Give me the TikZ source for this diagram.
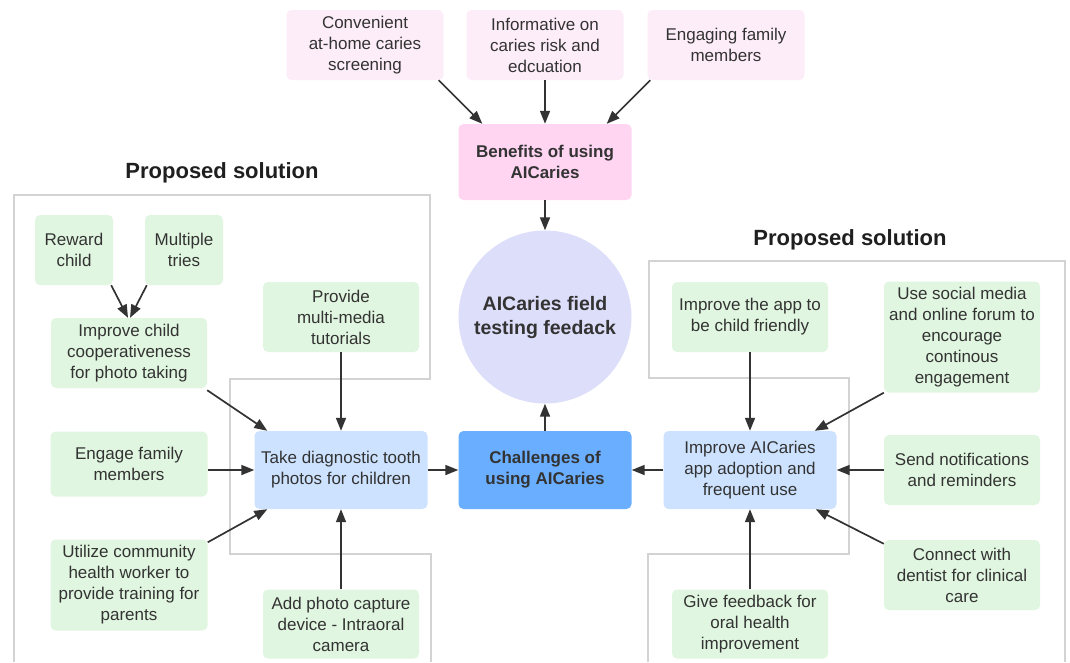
\documentclass[tikz,border=0pt]{standalone}
\usepackage{fontspec}
\setmainfont{Liberation Sans}
\usetikzlibrary{arrows.meta}
\definecolor{txt}{HTML}{333333}
\definecolor{pinkL}{HTML}{FDEDF8}
\definecolor{pinkB}{HTML}{FFD5F2}
\definecolor{lav}{HTML}{DDDEFA}
\definecolor{greenL}{HTML}{E0F6E0}
\definecolor{blueL}{HTML}{CCE2FF}
\definecolor{blueD}{HTML}{6AAEFF}
\definecolor{frameG}{HTML}{D3D3D3}
\begin{document}
\begin{tikzpicture}[x=1pt,y=-1pt,
  box/.style={rounded corners=5pt, align=center, text=txt, inner sep=0pt, font=\fontsize{17}{21}\selectfont},
  pinkbox/.style={box, fill=pinkL, minimum width=157pt, minimum height=70pt},
  greenbox/.style={box, fill=greenL},
  bluebox/.style={box, fill=blueL, minimum width=173pt, minimum height=78pt},
  boldbox/.style={box, font=\fontsize{17}{21}\selectfont\bfseries},
  heading/.style={text=black!88, font=\fontsize{22}{26}\selectfont\bfseries},
  arr/.style={draw=txt, line width=1.7pt, -{Triangle[length=13pt,width=10pt]}},
  frame/.style={draw=frameG, line width=1.3pt}
]
\useasboundingbox (0,0) rectangle (1070,662);
\fill[white] (0,0) rectangle (1070,662);

% panel frames
\draw[frame] (14,662) -- (14,195) -- (430,195) -- (430,379) -- (230,379) -- (230,554) -- (431,554) -- (431,662);
\draw[frame] (648,662) -- (648,554) -- (849,554) -- (849,378) -- (649,378) -- (649,261) -- (1065,261) -- (1065,662);

% headings
\node[heading] (h1) at (222,173) {Proposed solution};
\node[heading] (h2) at (850,240) {Proposed solution};

% top
\node[pinkbox] (conv) at (365,45) {Convenient\\at-home caries\\screening};
\node[pinkbox] (info) at (545,45) {Informative on\\caries risk and\\edcuation};
\node[pinkbox] (engf) at (726,45) {Engaging family\\members};
\node[boldbox, fill=pinkB, minimum width=173pt, minimum height=76pt] (ben) at (545,162) {Benefits of using\\AICaries};

% center
\node[circle, fill=lav, minimum size=173pt, inner sep=0pt, align=center, text=txt, font=\fontsize{19.5}{24}\selectfont\bfseries] (fb) at (545,317) {AICaries field\\testing feedack};
\node[boldbox, fill=blueD, minimum width=173pt, minimum height=78pt] (chal) at (545,470) {Challenges of\\using AICaries};
\node[bluebox] (take) at (341,470) {Take diagnostic tooth\\photos for children};
\node[bluebox] (impr) at (750,470) {Improve AICaries\\app adoption and\\frequent use};

% left greens
\node[greenbox, minimum width=78pt, minimum height=70pt] (rew) at (74,250) {Reward\\child};
\node[greenbox, minimum width=78pt, minimum height=70pt] (mult) at (184,250) {Multiple\\tries};
\node[greenbox, minimum width=156pt, minimum height=70pt] (coop) at (129,353) {Improve child\\cooperativeness\\for photo taking};
\node[greenbox, minimum width=156pt, minimum height=70pt] (prov) at (341,317) {Provide\\multi-media\\tutorials};
\node[greenbox, minimum width=157pt, minimum height=65pt] (engm) at (129,464) {Engage family\\members};
\node[greenbox, minimum width=157pt, minimum height=91pt] (util) at (129,585) {Utilize community\\health worker to\\provide training for\\parents};
\node[greenbox, minimum width=156pt, minimum height=69pt] (addp) at (341,624) {Add photo capture\\device - Intraoral\\camera};

% right greens
\node[greenbox, minimum width=156pt, minimum height=70pt] (chf) at (750,317) {Improve the app to\\be child friendly};
\node[greenbox, minimum width=156pt, minimum height=111pt] (soc) at (962,337) {Use social media\\and online forum to\\encourage\\continous\\engagement};
\node[greenbox, minimum width=156pt, minimum height=70pt] (send) at (962,470) {Send notifications\\and reminders};
\node[greenbox, minimum width=156pt, minimum height=70pt] (dent) at (962,575) {Connect with\\dentist for clinical\\care};
\node[greenbox, minimum width=156pt, minimum height=69pt] (gfb) at (750,624) {Give feedback for\\oral health\\improvement};

% arrows top
\draw[arr] ([xshift=-5pt]conv.south east) -- ([xshift=24pt]ben.north west);
\draw[arr] (info.south) -- (ben.north);
\draw[arr] ([xshift=3pt]engf.south west) -- ([xshift=-25pt]ben.north east);
\draw[arr] (ben.south) -- (fb.north);
\draw[arr] (chal.north) -- (fb.south);
\draw[arr] (take.east) -- (chal.west);
\draw[arr] (impr.west) -- (chal.east);

% arrows left
\draw[arr] ([xshift=-2pt]rew.south east) -- ([xshift=-1pt]coop.north);
\draw[arr] ([xshift=2pt]mult.south west) -- ([xshift=1pt]coop.north);
\draw[arr] ([yshift=-2pt]coop.south east) -- ([xshift=13pt]take.north west);
\draw[arr] (prov.south) -- (take.north);
\draw[arr] (engm.east |- take.west) -- (take.west);
\draw[arr] ([yshift=-3pt]util.north east) -- ([xshift=13pt]take.south west);
\draw[arr] (addp.north) -- (take.south);

% arrows right
\draw[arr] (chf.south) -- (impr.north);
\draw[arr] (soc.south west) -- ([xshift=-22pt]impr.north east);
\draw[arr] (send.west) -- (impr.east);
\draw[arr] ([yshift=-4pt]dent.north west) -- ([xshift=-21pt]impr.south east);
\draw[arr] (gfb.north) -- (impr.south);
\end{tikzpicture}
\end{document}
